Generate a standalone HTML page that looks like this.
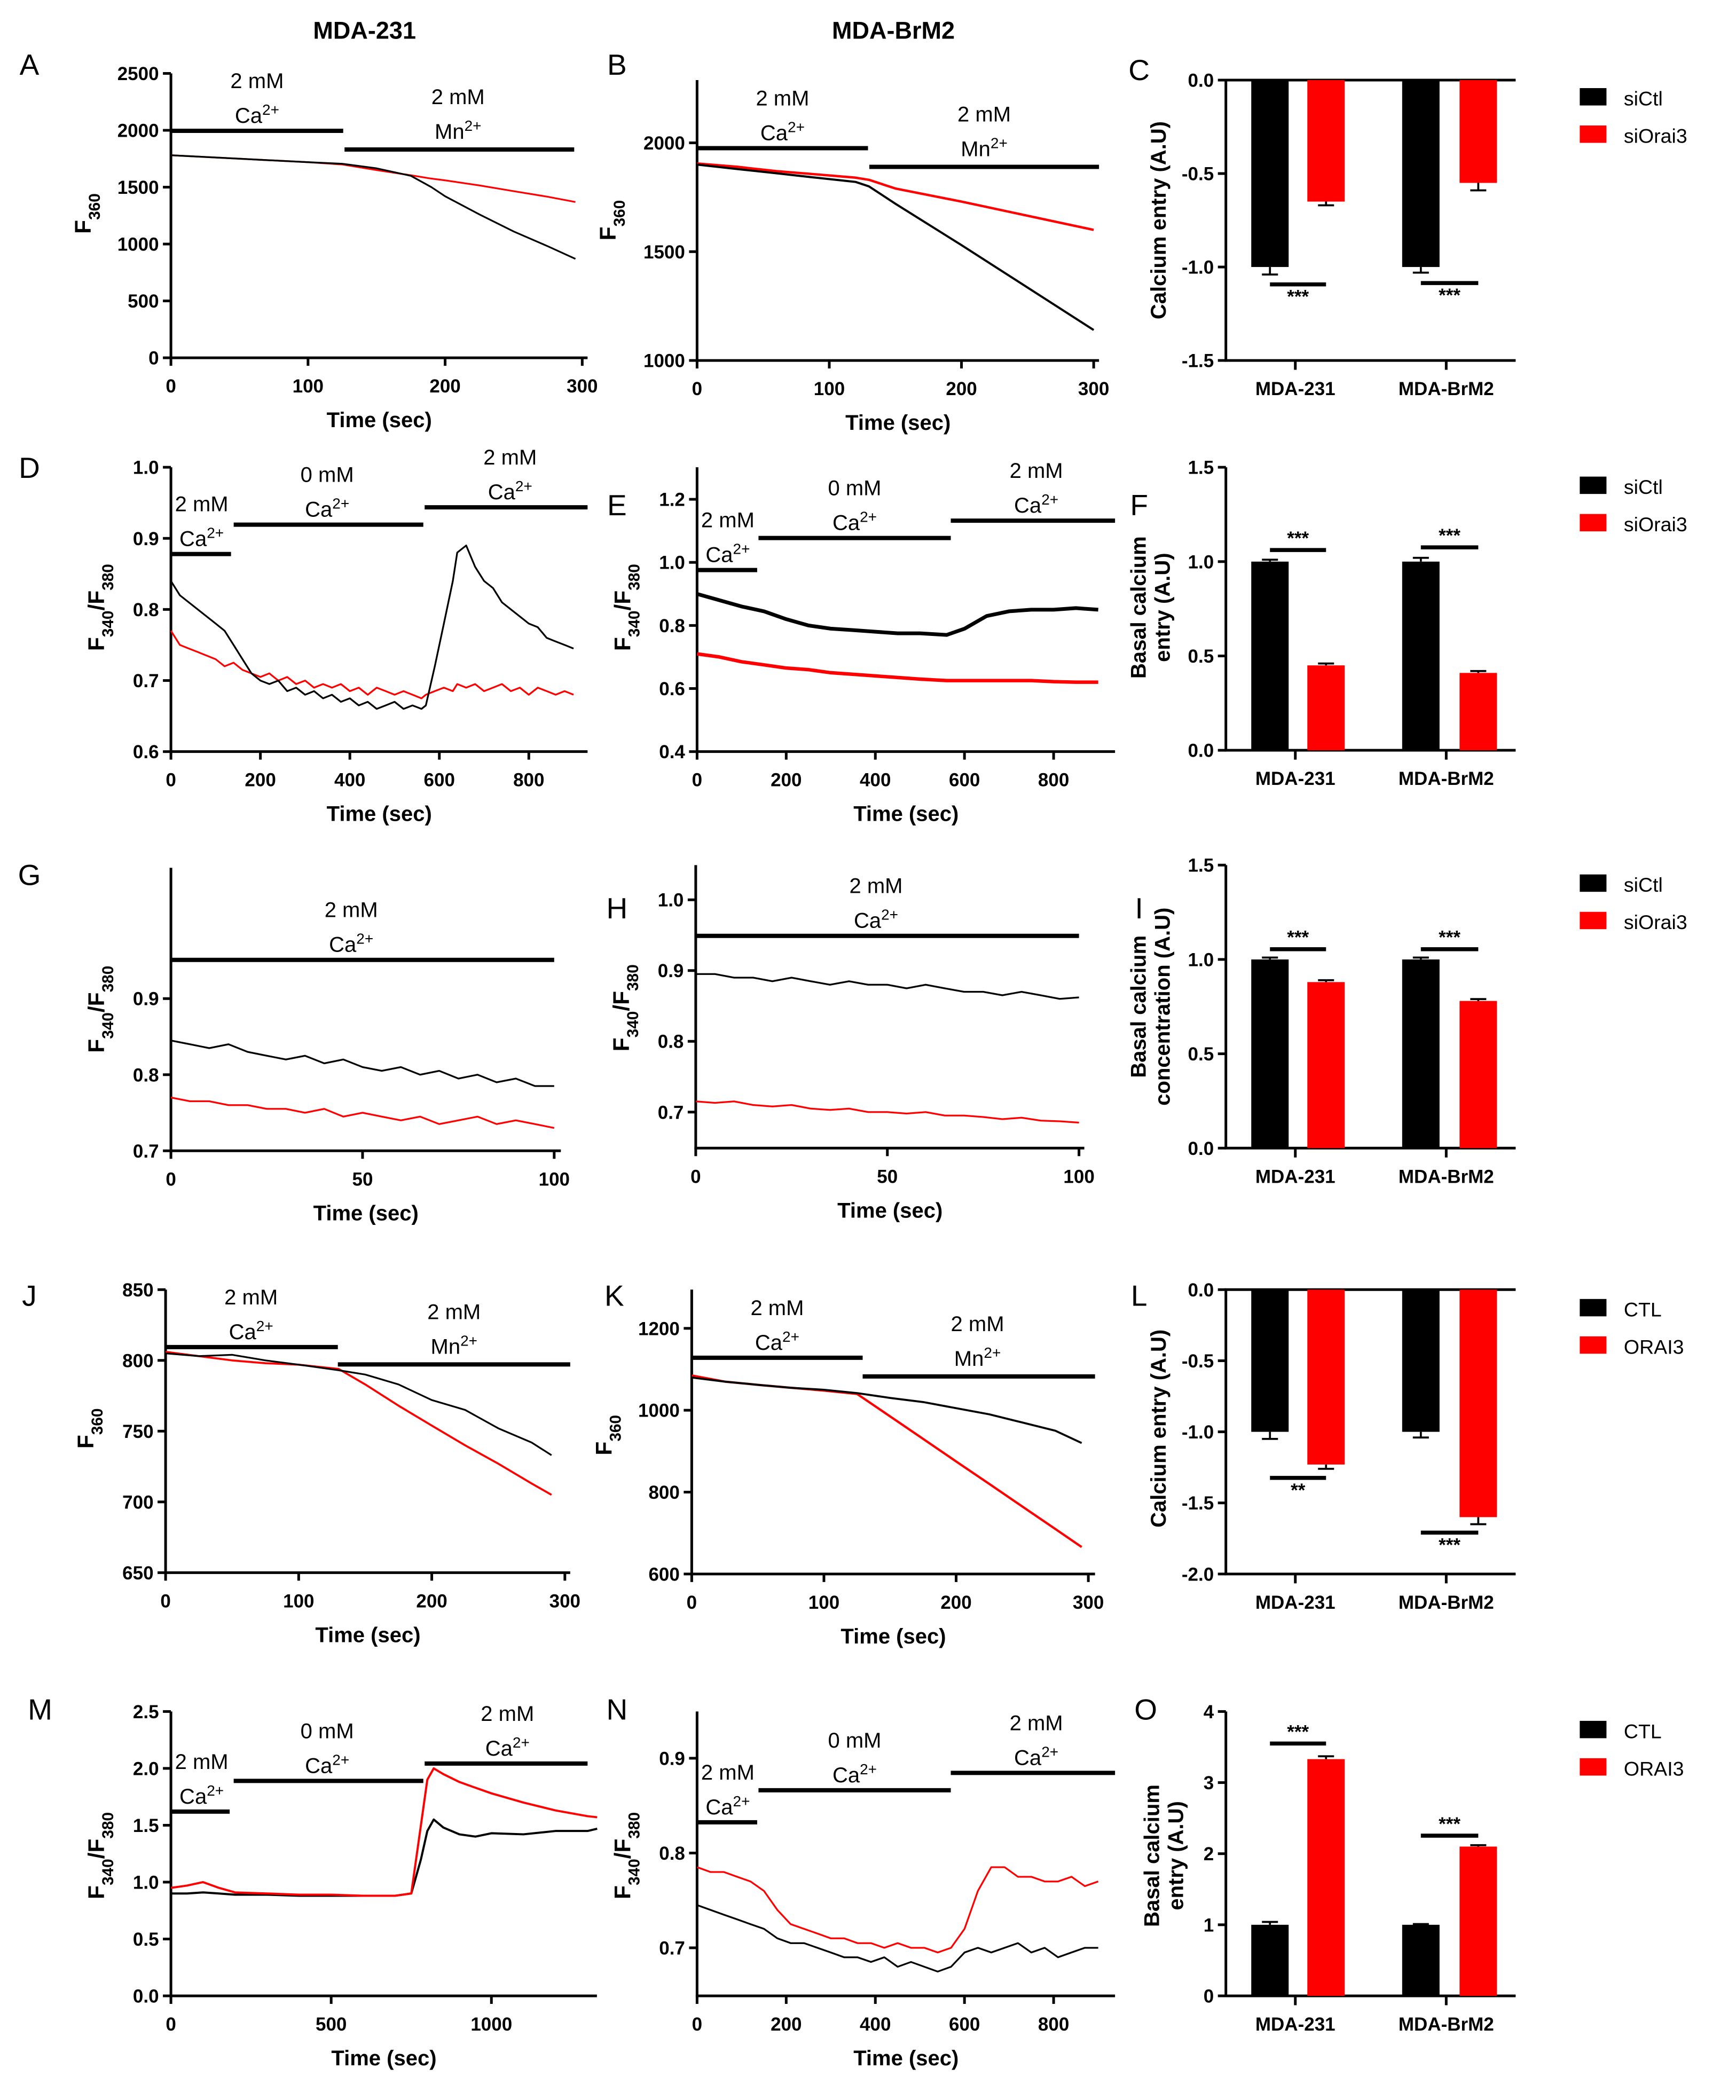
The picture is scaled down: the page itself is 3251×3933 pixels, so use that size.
<!DOCTYPE html>
<html><head><meta charset="utf-8">
<style>
html,body{margin:0;padding:0;background:#fff;}
svg{display:block;font-family:"Liberation Sans",Arial,sans-serif;}
</style></head>
<body>
<svg id="fig" width="3251" height="3933" viewBox="0 0 1300 1573" preserveAspectRatio="none" xmlns="http://www.w3.org/2000/svg"></svg>
<script>
// ---- data ----
const aTime=[0,25,50,75,100,125,150,175,190,200,225,250,275,295];
const aBlack=[1780,1765,1750,1735,1720,1705,1665,1600,1500,1420,1260,1110,980,870];
const aRed=[1780,1765,1750,1735,1720,1700,1650,1605,1575,1560,1515,1465,1415,1370];
const bTime=[0,30,60,90,120,130,150,200,250,300];
const bBlack=[1900,1880,1860,1840,1820,1800,1720,1530,1335,1140];
const bRed=[1905,1890,1870,1855,1840,1830,1790,1730,1665,1600];
const dTime=[0,20,40,60,80,100,120,140,160,180,200,220,240,260,280,300,320,340,360,380,400,420,440,460,480,500,520,540,560,570,590,610,630,640,660,680,700,720,740,760,780,800,820,840,860,880,900];
const dBlack=[0.84,0.82,0.81,0.80,0.79,0.78,0.77,0.75,0.73,0.71,0.70,0.695,0.70,0.685,0.69,0.68,0.685,0.675,0.68,0.67,0.675,0.665,0.67,0.66,0.665,0.67,0.66,0.665,0.66,0.665,0.72,0.78,0.84,0.88,0.89,0.86,0.84,0.83,0.81,0.80,0.79,0.78,0.775,0.76,0.755,0.75,0.745];
const dRed=[0.77,0.75,0.745,0.74,0.735,0.73,0.72,0.725,0.715,0.71,0.705,0.71,0.70,0.705,0.695,0.70,0.69,0.695,0.69,0.695,0.685,0.69,0.68,0.69,0.685,0.68,0.685,0.68,0.675,0.68,0.685,0.69,0.685,0.695,0.69,0.695,0.685,0.69,0.695,0.685,0.69,0.68,0.69,0.685,0.68,0.685,0.68];
const eTime=[0,50,100,150,200,250,300,350,400,450,500,560,600,650,700,750,800,850,900];
const eBlack=[0.90,0.88,0.86,0.845,0.82,0.80,0.79,0.785,0.78,0.775,0.775,0.77,0.79,0.83,0.845,0.85,0.85,0.855,0.85];
const eRed=[0.71,0.70,0.685,0.675,0.665,0.66,0.65,0.645,0.64,0.635,0.63,0.625,0.625,0.625,0.625,0.625,0.622,0.62,0.62];
const gTime=[0,5,10,15,20,25,30,35,40,45,50,55,60,65,70,75,80,85,90,95,100];
const gBlack=[0.845,0.84,0.835,0.84,0.83,0.825,0.82,0.825,0.815,0.82,0.81,0.805,0.81,0.80,0.805,0.795,0.80,0.79,0.795,0.785,0.785];
const gRed=[0.77,0.765,0.765,0.76,0.76,0.755,0.755,0.75,0.755,0.745,0.75,0.745,0.74,0.745,0.735,0.74,0.745,0.735,0.74,0.735,0.73];
const hTime=[0,5,10,15,20,25,30,35,40,45,50,55,60,65,70,75,80,85,90,95,100];
const hBlack=[0.895,0.895,0.89,0.89,0.885,0.89,0.885,0.88,0.885,0.88,0.88,0.875,0.88,0.875,0.87,0.87,0.865,0.87,0.865,0.86,0.862];
const hRed=[0.715,0.713,0.715,0.71,0.708,0.71,0.705,0.703,0.705,0.70,0.70,0.698,0.70,0.695,0.695,0.693,0.69,0.692,0.688,0.687,0.685];
const jTime=[0,25,50,75,100,130,150,175,200,225,250,275,290];
const jBlack=[805,803,804,800,797,793,790,783,772,765,752,742,733];
const jRed=[806,803,800,798,797,794,783,768,754,740,727,713,705];
const kTime=[0,25,50,75,100,125,150,175,200,225,250,275,295];
const kBlack=[1080,1070,1062,1055,1050,1042,1030,1020,1005,990,970,950,920];
const kRed=[1085,1070,1062,1055,1048,1040,985,930,875,820,765,710,666];
const mTime=[0,50,100,150,200,300,400,500,600,700,750,780,800,820,850,900,950,1000,1100,1200,1300,1330];
const mBlack=[0.90,0.90,0.91,0.90,0.89,0.89,0.88,0.88,0.88,0.88,0.90,1.20,1.45,1.55,1.48,1.42,1.40,1.43,1.42,1.45,1.45,1.47];
const mRed=[0.95,0.97,1.0,0.95,0.91,0.90,0.89,0.89,0.88,0.88,0.90,1.50,1.90,2.0,1.95,1.88,1.83,1.78,1.70,1.63,1.58,1.57];
const nTime=[0,30,60,90,120,150,180,210,240,270,300,330,360,390,420,450,480,510,540,570,600,630,660,690,720,750,780,810,840,870,900];
const nBlack=[0.745,0.74,0.735,0.73,0.725,0.72,0.71,0.705,0.705,0.70,0.695,0.69,0.69,0.685,0.69,0.68,0.685,0.68,0.675,0.68,0.695,0.70,0.695,0.70,0.705,0.695,0.70,0.69,0.695,0.70,0.70];
const nRed=[0.785,0.78,0.78,0.775,0.77,0.76,0.74,0.725,0.72,0.715,0.71,0.71,0.705,0.705,0.70,0.705,0.70,0.70,0.695,0.70,0.72,0.76,0.785,0.785,0.775,0.775,0.77,0.77,0.775,0.765,0.77];
const groups=['MDA-231','MDA-BrM2'];
const cBlack=[-1,-1], cRed=[-0.65,-0.55], cBlackErr=[0.04,0.03], cRedErr=[0.02,0.04];
const fBlack=[1,1], fRed=[0.45,0.41], fBlackErr=[0.01,0.02], fRedErr=[0.01,0.01];
const iBlack=[1,1], iRed=[0.88,0.78], iBlackErr=[0.01,0.01], iRedErr=[0.01,0.01];
const lBlack=[-1,-1], lRed=[-1.23,-1.6], lBlackErr=[0.05,0.04], lRedErr=[0.03,0.05];
const oBlack=[1,1], oRed=[3.33,2.1], oBlackErr=[0.04,0.01], oRedErr=[0.04,0.02];
const ticksA=[0,500,1000,1500,2000,2500], ticksB=[1000,1500,2000];
const ticksD=[0.6,0.7,0.8,0.9,1.0], ticksE=[0.4,0.6,0.8,1.0,1.2];
const ticksG=[0.7,0.8,0.9], ticksH=[0.7,0.8,0.9,1.0];
const ticksJ=[650,700,750,800,850], ticksK=[600,800,1000,1200];
const ticksM=[0.0,0.5,1.0,1.5,2.0,2.5], ticksN=[0.7,0.8,0.9];
const xt300=[0,100,200,300], xt900=[0,200,400,600,800], xt100=[0,50,100], xt1000=[0,500,1000];

// ---- drawing helpers ----
const NS='http://www.w3.org/2000/svg';
const svg=document.getElementById('fig');
function el(tag,attrs,parent){const e=document.createElementNS(NS,tag);for(const k in attrs)e.setAttribute(k,attrs[k]);(parent||svg).appendChild(e);return e;}
function scale(d0,d1,r0,r1){return v=>r0+(v-d0)*(r1-r0)/(d1-d0);}
function fmt(v,dec){return v.toFixed(dec);}
function txt(x,y,s,size,weight,anchor,parent,name){
  const t=el('text',{x:x,y:y,'font-size':size,'font-weight':weight||'normal','text-anchor':anchor||'middle',fill:'#000'},parent);
  t.innerHTML=s;
  
  
  return t;
}
const sup=s=>`<tspan baseline-shift="super" font-size="70%">${s}</tspan>`;
const sub=s=>`<tspan baseline-shift="sub" font-size="70%">${s}</tspan>`;
const F360='F'+sub('360');
const FRAT='F'+sub('340')+'/F'+sub('380');

function linePanel(c){
  const g=el('g',{});
  
  
  const sx=scale(c.xd[0],c.xd[1],c.xr[0],c.xr[1]);
  const sy=scale(c.yd[0],c.yd[1],c.yr[0],c.yr[1]);
  const xb=c.xAxisY!==undefined?c.xAxisY:c.yr[0];
  const ya=el('line',{x1:c.xr[0],x2:c.xr[0],y1:c.yTop,y2:xb+1,stroke:'#000','stroke-width':2},g);
  
  
  const xa=el('line',{x1:c.xr[0]-1,x2:c.xEnd,y1:xb,y2:xb,stroke:'#000','stroke-width':2},g);
  
  
  c.yt.forEach(v=>{
    const y=sy(v);
    el('line',{x1:c.xr[0]-6,x2:c.xr[0],y1:y,y2:y,stroke:'#000','stroke-width':2},g);
    txt(c.xr[0]-9,y+5,fmt(v,c.dec),14,'bold','end',g,'y-tick-label');
  });
  c.xt.forEach(v=>{
    const x=sx(v);
    el('line',{x1:x,x2:x,y1:xb,y2:xb+6,stroke:'#000','stroke-width':2},g);
    txt(x,xb+26,String(v),14,'bold','middle',g,'x-tick-label');
  });
  txt((c.xr[0]+c.xEnd)/2,xb+52,'Time (sec)',16,'bold','middle',g,'x-axis-title');
  const yl=txt(c.ylx,c.yly,c.ylab,17,'bold','middle',g,'y-axis-title');
  yl.setAttribute('transform',`rotate(-90 ${c.ylx} ${c.yly})`);
  c.bars.forEach(b=>{
    const l=el('line',{x1:b.x1,x2:b.x2,y1:b.y,y2:b.y,stroke:'#000','stroke-width':3.2},g);
    
    
    const cx=b.tx!==undefined?b.tx:(b.x1+b.x2)/2;
    txt(cx,b.y-b.gap-26,b.mm+' mM',16,'normal','middle',g,'condition-label');
    txt(cx,b.y-b.gap,b.ion+sup('2+'),16,'normal','middle',g,'ion-label');
  });
  c.series.forEach(s=>{
    const pts=s.t.map((t,i)=>sx(t).toFixed(1)+','+sy(s.v[i]).toFixed(1)).join(' ');
    const p=el('polyline',{points:pts,fill:'none',stroke:s.color,'stroke-width':s.w||1.3,'stroke-linejoin':'round'},g);
    
    
  });
}

function barPanel(c){
  const g=el('g',{});
  
  
  const sy=scale(c.yd[0],c.yd[1],c.yr[0],c.yr[1]);
  const x0=918, xEnd=1135;
  const ya=el('line',{x1:x0,x2:x0,y1:c.yr[1],y2:c.yr[0],stroke:'#000','stroke-width':2},g);
  
  
  c.yt.forEach(v=>{
    const y=sy(v);
    el('line',{x1:x0-6,x2:x0,y1:y,y2:y,stroke:'#000','stroke-width':2},g);
    txt(x0-9,y+5,fmt(v,c.dec),14,'bold','end',g,'y-tick-label');
  });
  const base=sy(0);
  const xa=el('line',{x1:x0-1,x2:xEnd,y1:base,y2:base,stroke:'#000','stroke-width':2},g);
  
  
  if(c.yd[0]<0){
    const bl=el('line',{x1:x0-1,x2:xEnd,y1:c.yr[0],y2:c.yr[0],stroke:'#000','stroke-width':2},g);
    
    
  }
  const bx=[[937,979],[1050,1093]], bw=28, centers=[970,1083];
  groups.forEach((gname,i)=>{
    [[c.black,c.blackErr,'#000','bar-'+c.series[0]],[c.red,c.redErr,'#ff0000','bar-'+c.series[1]]].forEach((s,j)=>{
      const v=s[0][i], e=s[1][i], x=bx[i][j];
      const y=sy(v);
      const r=el('rect',{x:x,y:Math.min(y,base),width:bw,height:Math.abs(y-base),fill:s[2]},g);
      
      
      const ye=sy(v+(v<0?-e:e));
      const eb=el('path',{d:`M${x+bw/2},${y}V${ye}M${x+bw/2-6},${ye}H${x+bw/2+6}`,stroke:'#000','stroke-width':1.5,fill:'none'},g);
      
      
    });
    el('line',{x1:centers[i],x2:centers[i],y1:c.yr[0],y2:c.yr[0]+7,stroke:'#000','stroke-width':2},g);
    txt(centers[i],c.yr[0]+26,gname,14,'bold','middle',g,'x-category-label');
    const sg=c.sig[i];
    const sl=el('line',{x1:bx[i][0]+14,x2:bx[i][1]+14,y1:sg.y,y2:sg.y,stroke:'#000','stroke-width':3},g);
    
    
    txt((bx[i][0]+bx[i][1])/2+14,sg.below?sg.y+14:sg.y-4,sg.s,14,'bold','middle',g,'significance-stars');
  });
  c.ylab.forEach((l,k)=>{
    const x=c.ylx[k];
    const t=txt(x,c.yly,l,16,'bold','middle',g,'y-axis-title');
    t.setAttribute('transform',`rotate(-90 ${x} ${c.yly})`);
  });
  c.legend.forEach((l,k)=>{
    const y=c.legY+k*28;
    const r=el('rect',{x:1183,y:y-7,width:20,height:13,fill:k?'#ff0000':'#000'},g);
    
    
    txt(1216,y+6,l,15,'normal','start',g,'legend-label');
  });
}

txt(273,29,'MDA-231',18,'bold','middle',null,'column-header-mda231');
txt(669,29,'MDA-BrM2',18,'bold','middle',null,'column-header-mdabrm2');
[['A',22,56],['B',462,56],['C',853,60],['D',22,358],['E',462,386],['F',853,386],['G',22,663],['H',462,688],['I',853,688],['J',22,978],['K',460,978],['L',853,978],['M',30,1288],['N',462,1288],['O',858,1288]]
.forEach(p=>txt(p[1],p[2],p[0],22,'normal','middle',null,'panel-letter-'+p[0].toLowerCase()));

linePanel({name:'panel-a',xd:[0,300],xr:[128,436],xEnd:440,yd:[0,2500],yr:[268,55],yTop:55,yt:ticksA,dec:0,xt:xt300,ylab:F360,ylx:68,yly:160,
 bars:[{x1:128,x2:257,y:98,mm:'2',ion:'Ca',gap:6},{x1:258,x2:430,y:112,mm:'2',ion:'Mn',gap:8,tx:343}],
 series:[{t:aTime,v:aRed,color:'#ff0000',name:'series-siorai3'},{t:aTime,v:aBlack,color:'#000',name:'series-sictl'}]});
linePanel({name:'panel-b',xd:[0,300],xr:[522,819],xEnd:823,yd:[1000,2000],yr:[270,107],yTop:60,yt:ticksB,dec:0,xt:xt300,ylab:F360,ylx:461,yly:165,
 bars:[{x1:522,x2:650,y:111,mm:'2',ion:'Ca',gap:6,tx:586},{x1:651,x2:823,y:125,mm:'2',ion:'Mn',gap:8,tx:737}],
 series:[{t:bTime,v:bRed,color:'#ff0000',w:1.8,name:'series-siorai3'},{t:bTime,v:bBlack,color:'#000',w:1.6,name:'series-sictl'}]});
linePanel({name:'panel-d',xd:[0,800],xr:[128,396],xEnd:440,yd:[0.6,1.0],yr:[563,350],yTop:350,yt:ticksD,dec:1,xt:xt900,ylab:FRAT,ylx:78,yly:455,
 bars:[{x1:128,x2:173,y:415,mm:'2',ion:'Ca',gap:6,tx:151},{x1:175,x2:317,y:393,mm:'0',ion:'Ca',gap:6,tx:245},{x1:318,x2:440,y:380,mm:'2',ion:'Ca',gap:6,tx:382}],
 series:[{t:dTime,v:dRed,color:'#ff0000',name:'series-siorai3'},{t:dTime,v:dBlack,color:'#000',name:'series-sictl'}]});
linePanel({name:'panel-e',xd:[0,800],xr:[522,789],xEnd:835,yd:[0.4,1.2],yr:[563,374],yTop:350,yt:ticksE,dec:1,xt:xt900,ylab:FRAT,ylx:472,yly:455,
 bars:[{x1:522,x2:567,y:427,mm:'2',ion:'Ca',gap:6,tx:545},{x1:568,x2:712,y:403,mm:'0',ion:'Ca',gap:6,tx:640},{x1:712,x2:835,y:390,mm:'2',ion:'Ca',gap:6,tx:776}],
 series:[{t:eTime,v:eRed,color:'#ff0000',w:2.6,name:'series-siorai3'},{t:eTime,v:eBlack,color:'#000',w:2.8,name:'series-sictl'}]});
linePanel({name:'panel-g',xd:[0,100],xr:[128,415],xEnd:420,yd:[0.7,0.9],yr:[862,748],yTop:650,yt:ticksG,dec:1,xt:xt100,ylab:FRAT,ylx:78,yly:756,
 bars:[{x1:128,x2:415,y:719,mm:'2',ion:'Ca',gap:6,tx:263}],
 series:[{t:gTime,v:gRed,color:'#ff0000',name:'series-siorai3'},{t:gTime,v:gBlack,color:'#000',name:'series-sictl'}]});
linePanel({name:'panel-h',xd:[0,100],xr:[521,808],xEnd:812,yd:[0.7,1.0],yr:[833,674],yTop:648,xAxisY:860,yt:ticksH,dec:1,xt:xt100,ylab:FRAT,ylx:471,yly:755,
 bars:[{x1:521,x2:808,y:701,mm:'2',ion:'Ca',gap:6,tx:656}],
 series:[{t:hTime,v:hRed,color:'#ff0000',name:'series-siorai3'},{t:hTime,v:hBlack,color:'#000',name:'series-sictl'}]});
linePanel({name:'panel-j',xd:[0,300],xr:[124,423],xEnd:427,yd:[650,850],yr:[1178,966],yTop:966,yt:ticksJ,dec:0,xt:xt300,ylab:F360,ylx:70,yly:1070,
 bars:[{x1:124,x2:253,y:1009,mm:'2',ion:'Ca',gap:6,tx:188},{x1:253,x2:427,y:1022,mm:'2',ion:'Mn',gap:8,tx:340}],
 series:[{t:jTime,v:jRed,color:'#ff0000',w:1.5,name:'series-orai3'},{t:jTime,v:jBlack,color:'#000',name:'series-ctl'}]});
linePanel({name:'panel-k',xd:[0,300],xr:[518,815],xEnd:820,yd:[600,1200],yr:[1179,995],yTop:966,yt:ticksK,dec:0,xt:xt300,ylab:F360,ylx:458,yly:1075,
 bars:[{x1:518,x2:646,y:1017,mm:'2',ion:'Ca',gap:6,tx:582},{x1:646,x2:820,y:1031,mm:'2',ion:'Mn',gap:8,tx:732}],
 series:[{t:kTime,v:kRed,color:'#ff0000',w:1.7,name:'series-orai3'},{t:kTime,v:kBlack,color:'#000',w:1.5,name:'series-ctl'}]});
linePanel({name:'panel-m',xd:[0,1000],xr:[128,368],xEnd:447,yd:[0,2.5],yr:[1495,1282],yTop:1282,yt:ticksM,dec:1,xt:xt1000,ylab:FRAT,ylx:78,yly:1390,
 bars:[{x1:128,x2:172,y:1357,mm:'2',ion:'Ca',gap:6,tx:151},{x1:175,x2:317,y:1334,mm:'0',ion:'Ca',gap:6,tx:245},{x1:318,x2:440,y:1321,mm:'2',ion:'Ca',gap:6,tx:380}],
 series:[{t:mTime,v:mBlack,color:'#000',w:1.6,name:'series-ctl'},{t:mTime,v:mRed,color:'#ff0000',w:1.6,name:'series-orai3'}]});
linePanel({name:'panel-n',xd:[0,800],xr:[522,789],xEnd:835,yd:[0.7,0.9],yr:[1459,1317],yTop:1282,xAxisY:1495,yt:ticksN,dec:1,xt:xt900,ylab:FRAT,ylx:472,yly:1390,
 bars:[{x1:522,x2:567,y:1365,mm:'2',ion:'Ca',gap:6,tx:545},{x1:568,x2:712,y:1341,mm:'0',ion:'Ca',gap:6,tx:640},{x1:712,x2:835,y:1328,mm:'2',ion:'Ca',gap:6,tx:776}],
 series:[{t:nTime,v:nBlack,color:'#000',name:'series-ctl'},{t:nTime,v:nRed,color:'#ff0000',name:'series-orai3'}]});

barPanel({name:'panel-c',yd:[-1.5,0],yr:[270,60],yt:[0,-0.5,-1.0,-1.5],dec:1,black:cBlack,red:cRed,blackErr:cBlackErr,redErr:cRedErr,series:['sictl','siorai3'],
 sig:[{y:213,s:'***',below:true},{y:212,s:'***',below:true}],ylab:['Calcium entry (A.U)'],ylx:[873],yly:165,legend:['siCtl','siOrai3'],legY:73});
barPanel({name:'panel-f',yd:[0,1.5],yr:[562,350],yt:[0,0.5,1.0,1.5],dec:1,black:fBlack,red:fRed,blackErr:fBlackErr,redErr:fRedErr,series:['sictl','siorai3'],
 sig:[{y:412,s:'***'},{y:410,s:'***'}],ylab:['Basal calcium','entry (A.U)'],ylx:[858,876],yly:455,legend:['siCtl','siOrai3'],legY:364});
barPanel({name:'panel-i',yd:[0,1.5],yr:[860,648],yt:[0,0.5,1.0,1.5],dec:1,black:iBlack,red:iRed,blackErr:iBlackErr,redErr:iRedErr,series:['sictl','siorai3'],
 sig:[{y:711,s:'***'},{y:711,s:'***'}],ylab:['Basal calcium','concentration (A.U)'],ylx:[858,876],yly:754,legend:['siCtl','siOrai3'],legY:662});
barPanel({name:'panel-l',yd:[-2,0],yr:[1179,966],yt:[0,-0.5,-1.0,-1.5,-2.0],dec:1,black:lBlack,red:lRed,blackErr:lBlackErr,redErr:lRedErr,series:['ctl','orai3'],
 sig:[{y:1107,s:'**',below:true},{y:1148,s:'***',below:true}],ylab:['Calcium entry (A.U)'],ylx:[873],yly:1070,legend:['CTL','ORAI3'],legY:980});
barPanel({name:'panel-o',yd:[0,4],yr:[1495,1282],yt:[0,1,2,3,4],dec:0,black:oBlack,red:oRed,blackErr:oBlackErr,redErr:oRedErr,series:['ctl','orai3'],
 sig:[{y:1306,s:'***'},{y:1375,s:'***'}],ylab:['Basal calcium','entry (A.U)'],ylx:[868,886],yly:1390,legend:['CTL','ORAI3'],legY:1296});
</script>
</body></html>
